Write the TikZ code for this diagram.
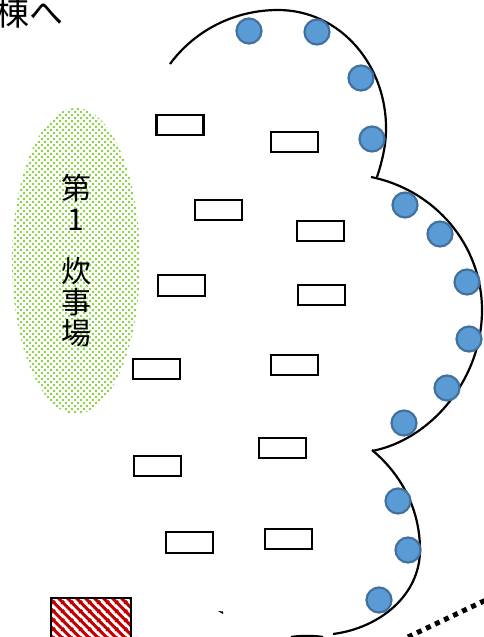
\documentclass[tikz,border=0pt]{standalone}
\usepackage{xcolor}
\usepackage{fontspec}
\newfontfamily\jpfont{Noto Sans CJK JP}
\usetikzlibrary{patterns,shapes.geometric}
\definecolor{tentBlue}{HTML}{5B9BD5}
\definecolor{tentEdge}{HTML}{41719C}
\definecolor{fireGreen}{HTML}{84CC3C}
\definecolor{hatchRed}{HTML}{C00000}
\pgfdeclarepatternformonly{fireDots}{\pgfqpoint{-1.5pt}{-1.5pt}}{\pgfqpoint{4.5pt}{4.5pt}}{\pgfqpoint{6pt}{6pt}}{
  \pgfpathcircle{\pgfqpoint{0pt}{0pt}}{1.4pt}
  \pgfpathcircle{\pgfqpoint{3pt}{3pt}}{1.4pt}
  \pgfusepath{fill}
}
\pgfdeclarepatternformonly{redStripes}{\pgfqpoint{0pt}{0pt}}{\pgfqpoint{9pt}{9pt}}{\pgfqpoint{9pt}{9pt}}{
  \pgfsetlinewidth{3.2pt}
  \pgfpathmoveto{\pgfqpoint{-1pt}{10pt}}
  \pgfpathlineto{\pgfqpoint{10pt}{-1pt}}
  \pgfpathmoveto{\pgfqpoint{-1pt}{1pt}}
  \pgfpathlineto{\pgfqpoint{1pt}{-1pt}}
  \pgfpathmoveto{\pgfqpoint{8pt}{10pt}}
  \pgfpathlineto{\pgfqpoint{10pt}{8pt}}
  \pgfusepath{stroke}
}
\tikzstyle{nodeBlue}=[circle,fill=tentBlue,draw=tentEdge,line width=2.2pt,inner sep=0pt,minimum size=25pt]
\tikzstyle{nodeTable}=[rectangle,fill=white,draw=black,line width=2.3pt,inner sep=0pt,minimum width=47pt,minimum height=20.5pt]
\tikzstyle{edgeArc}=[line width=2.2pt,black]
\tikzstyle{labelJp}=[inner sep=0pt,font=\jpfont\fontsize{30pt}{31pt}\selectfont]
\begin{document}
\begin{tikzpicture}[x=1pt,y=-1pt]
        \useasboundingbox (0,0) rectangle (484,637);
        \node[labelJp,font=\jpfont\fontsize{34pt}{36pt}\selectfont] (building) at (29,13) {棟へ};
        \node[ellipse,draw=none,pattern=fireDots,pattern color=fireGreen,inner sep=0pt,minimum width=128pt,minimum height=306pt] (fire) at (76,261) {};
        \node[labelJp,align=center] (fireText) at (76,261) {第\\1\\[21pt]炊\\事\\場};
        % outline of the site
        \draw[edgeArc] (170,64) .. controls (195,30) and (235,10) .. (278,10) .. controls (340,10) and (387,65) .. (386,130) .. controls (386,145) and (382,162) .. (377,177);
        \draw[edgeArc] (371,177) .. controls (435,190) and (482,245) .. (482,310) .. controls (482,380) and (430,440) .. (372,451);
        \draw[edgeArc] (372,450) .. controls (402,475) and (420,510) .. (420,550) .. controls (420,595) and (380,628) .. (333,634);
        \draw[edgeArc] (291,637) .. controls (300,635.5) and (314,635.5) .. (323,637);
        \fill[black] (218,611) -- (223,611.5) -- (223,614) -- cycle;
        % tents
        \node[nodeBlue] (c1) at (249,31) {};
        \node[nodeBlue] (c2) at (317,32) {};
        \node[nodeBlue] (c3) at (361,78) {};
        \node[nodeBlue] (c4) at (372,139) {};
        \node[nodeBlue] (c5) at (405,205) {};
        \node[nodeBlue] (c6) at (440,234) {};
        \node[nodeBlue] (c7) at (467,282) {};
        \node[nodeBlue] (c8) at (469,339) {};
        \node[nodeBlue] (c9) at (447,388) {};
        \node[nodeBlue] (c10) at (404,423) {};
        \node[nodeBlue] (c11) at (398,501) {};
        \node[nodeBlue] (c12) at (408,550) {};
        \node[nodeBlue] (c13) at (379,600) {};
        % tables
        \node[nodeTable] (r1) at (180,125) {};
        \node[nodeTable] (r2) at (294.5,142) {};
        \node[nodeTable] (r3) at (218.5,210) {};
        \node[nodeTable] (r4) at (320.5,231) {};
        \node[nodeTable] (r5) at (181.5,285.5) {};
        \node[nodeTable] (r6) at (321.5,295) {};
        \node[nodeTable] (r7) at (156.5,369) {};
        \node[nodeTable] (r8) at (294.5,365) {};
        \node[nodeTable] (r9) at (157.5,466) {};
        \node[nodeTable] (r10) at (282.5,448) {};
        \node[nodeTable] (r11) at (189.5,542.5) {};
        \node[nodeTable] (r12) at (288.5,539) {};
        % store and fence
        \node[rectangle,draw=black,line width=2.3pt,pattern=redStripes,pattern color=hatchRed,inner sep=0pt,minimum width=80pt,minimum height=60pt] (store) at (91,628) {};
        \coordinate (f1) at (408,637);
        \coordinate (f2) at (486,600);
        \draw[line width=5pt,dash pattern=on 5pt off 5pt] (f1) -- (f2);
      \end{tikzpicture}
\end{document}
